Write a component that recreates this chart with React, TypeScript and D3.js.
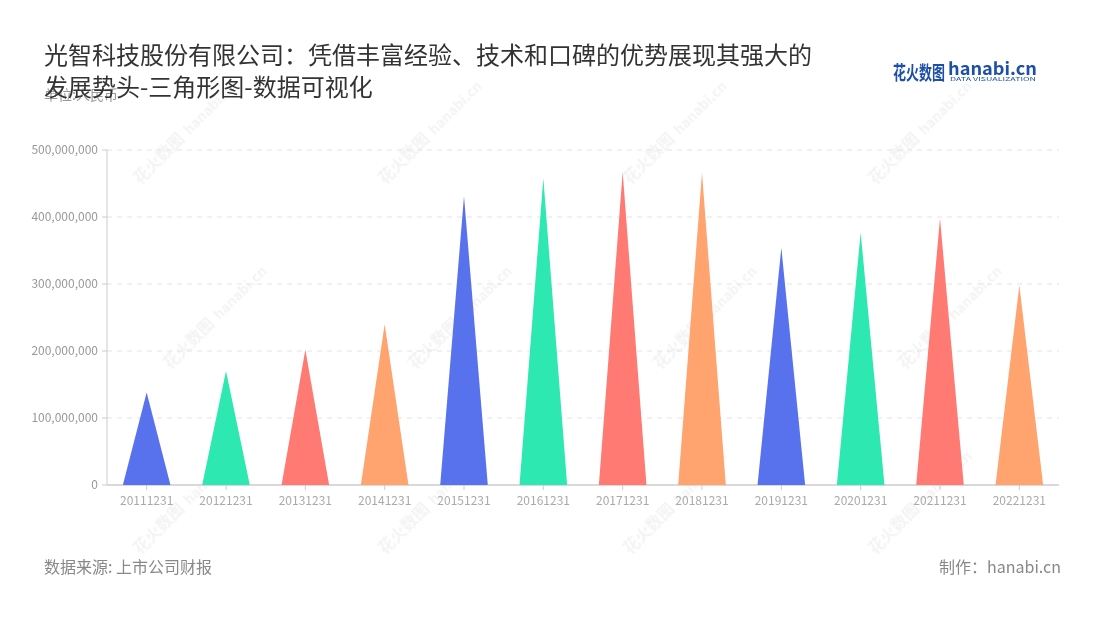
import React from "react";
import * as d3 from "d3";

const categories = ["20111231","20121231","20131231","20141231","20151231","20161231","20171231","20181231","20191231","20201231","20211231","20221231"];
const values = [138000000, 170000000, 202000000, 240000000, 431000000, 458000000, 467000000, 466000000, 354000000, 377000000, 398000000, 298000000];
const yTicks = [0, 100000000, 200000000, 300000000, 400000000, 500000000];
const palette = ["#5872EE", "#2DE8B1", "#FF7A72", "#FFA36F"];

const W = 1100, H = 620;
const margin = { left: 107, right: 1059, top: 150, bottom: 485 };

export default function App() {
  const x = d3.scaleBand<string>().domain(categories).range([margin.left, margin.right]);
  const y = d3.scaleLinear().domain([0, 500000000]).range([margin.bottom, margin.top]);
  const fmt = d3.format(",");
  const barW = x.bandwidth() * 0.6;
  const font = "'Noto Sans CJK SC', 'Noto Sans', sans-serif";

  const wmPositions: [number, number][] = [];
  const rows = [185, 370, 555];
  rows.forEach((ry, r) => {
    for (let c = 0; c < 4; c++) {
      wmPositions.push([140 + c * 245 + (r === 1 ? 30 : 0), ry]);
    }
  });

  return (
    <svg width={W} height={H} style={{ position: "absolute", left: 0, top: 0, background: "#fff" }} fontFamily={font}>
      {/* watermarks */}
      <g opacity={0.45}>
        {wmPositions.map(([wx, wy], i) => (
          <g key={i} transform={`translate(${wx},${wy}) rotate(-45)`}>
            <text fontSize={16} fontWeight="bold" fill="#e6e6e6">花火数图</text>
            <text x={70} fontSize={14} fontWeight="bold" fill="#e6e6e6">hanabi.cn</text>
          </g>
        ))}
      </g>

      {/* unit */}
      <text x={44} y={100} fontSize={14} fill="#999">单位:人民币</text>

      {/* title */}
      <text fontSize={24} fill="#333">
        <tspan x={44} y={64}>光智科技股份有限公司：凭借丰富经验、技术和口碑的优势展现其强大的</tspan>
        <tspan x={44} y={96}>发展势头-三角形图-数据可视化</tspan>
      </text>

      {/* logo */}
      <text x={893} y={80} fontSize={19} fontWeight="bold" fill="#1d4fa8" textLength={52} lengthAdjust="spacingAndGlyphs">花火数图</text>
      <text x={948} y={75} fontSize={17} fontWeight="bold" fill="#1d4fa8" textLength={89} lengthAdjust="spacingAndGlyphs">hanabi.cn</text>
      <text x={950} y={81} fontSize={5} fill="#1d4fa8" textLength={86} lengthAdjust="spacingAndGlyphs">DATA VISUALIZATION</text>

      {/* grid */}
      {yTicks.map((t) => (
        <g key={t}>
          {t > 0 && (
            <line x1={margin.left} x2={margin.right} y1={y(t)} y2={y(t)} stroke="#e3e3e3" strokeDasharray="5,5" />
          )}
          <line x1={margin.left - 5} x2={margin.left} y1={y(t)} y2={y(t)} stroke="#ccc" />
          <text x={margin.left - 9} y={y(t)} dy="0.35em" textAnchor="end" fontSize={12} fill="#999">{fmt(t)}</text>
        </g>
      ))}

      {/* axes */}
      <line x1={margin.left} x2={margin.left} y1={margin.top} y2={margin.bottom} stroke="#ccc" />
      <line x1={margin.left} x2={margin.right} y1={margin.bottom} y2={margin.bottom} stroke="#ccc" strokeWidth={1.5} />

      {/* triangles */}
      {categories.map((c, i) => {
        const cx = (x(c) as number) + x.bandwidth() / 2;
        const base = y(0);
        const top = y(values[i]);
        const p = d3.path();
        p.moveTo(cx - barW / 2, base);
        p.lineTo(cx, top);
        p.lineTo(cx + barW / 2, base);
        p.closePath();
        return <path key={c} d={p.toString()} fill={palette[i % 4]} />;
      })}

      {/* x ticks and labels */}
      {categories.map((c) => {
        const cx = (x(c) as number) + x.bandwidth() / 2;
        return (
          <g key={c}>
            <line x1={cx} x2={cx} y1={margin.bottom} y2={margin.bottom + 5} stroke="#ccc" />
            <text x={cx} y={505} textAnchor="middle" fontSize={12} fill="#aaa">{c}</text>
          </g>
        );
      })}

      {/* footer */}
      <text x={44} y={573} fontSize={16} fill="#888">数据来源: 上市公司财报</text>
      <text x={1061} y={573} fontSize={16} fill="#888" textAnchor="end">制作：hanabi.cn</text>
    </svg>
  );
}
